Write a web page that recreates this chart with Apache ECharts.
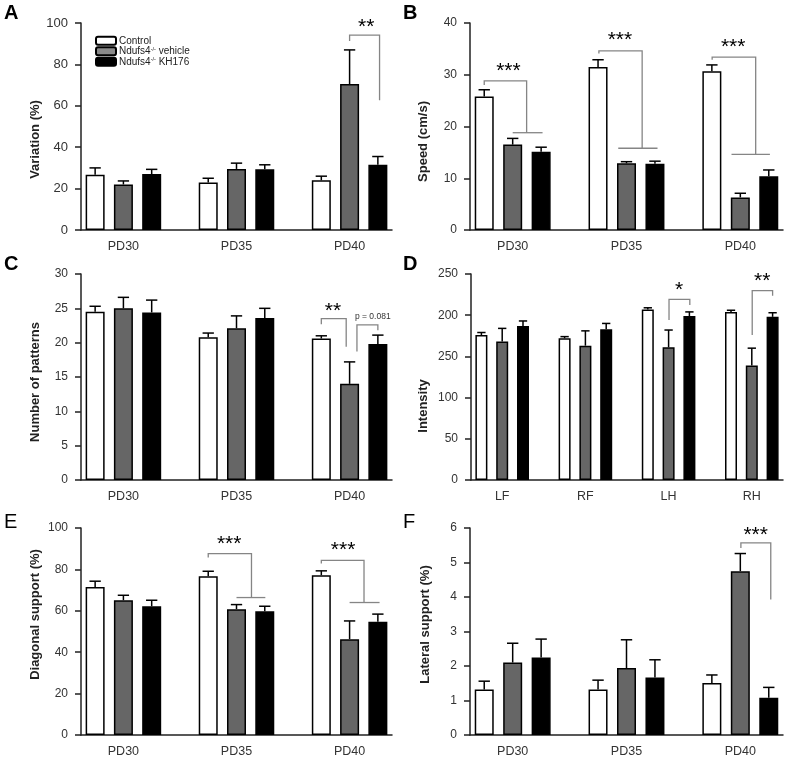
<!DOCTYPE html>
<html>
<head>
<meta charset="utf-8">
<script src="https://cdn.jsdelivr.net/npm/echarts@6/dist/echarts.min.js"></script>
<style>
  html, body { margin: 0; padding: 0; background: #fff; }
  #chart { width: 787px; height: 758px; }
</style>
</head>
<body>
<div id="chart"></div>
<script>
  // categories
  const ages = ['PD30', 'PD35', 'PD40'];
  const paws = ['LF', 'RF', 'LH', 'RH'];
  const groupNames = ['Control', 'Ndufs4-/- vehicle', 'Ndufs4-/- KH176'];
  const groupColors = ['#ffffff', '#666666', '#000000'];

  // A: variation (%) - rows are control, vehicle, KH176
  const variationMean = [[26.7, 23.0, 24.0], [22.0, 29.5, 70.5], [27.0, 29.3, 31.5]];
  const variationSem = [[3.3, 2.0, 2.0], [1.7, 2.8, 16.5], [2.3, 2.2, 4.0]];
  // B: speed (cm/s)
  const speedMean = [[25.8, 31.5, 30.7], [16.5, 12.9, 6.3], [15.1, 12.8, 10.4]];
  const speedSem = [[1.3, 1.4, 1.2], [1.2, 0.3, 0.8], [0.9, 0.5, 1.2]];
  // C: number of patterns
  const patternsMean = [[24.5, 20.8, 20.6], [25.0, 22.1, 14.0], [24.4, 23.6, 19.8]];
  const patternsSem = [[0.8, 0.6, 0.4], [1.6, 1.8, 3.2], [1.8, 1.4, 1.3]];
  // D: intensity per paw
  const intensityMean = [[176, 172, 207, 204], [168, 163, 161, 139], [187, 183, 199, 198]];
  const intensitySem = [[3, 2, 2, 2], [16, 18, 21, 21], [6, 7, 5, 5]];
  const intensityTicks = ['0', '50', '100', '250', '200', '250'];
  // E: diagonal support (%)
  const diagonalMean = [[71.5, 76.7, 77.2], [65.1, 60.8, 46.3], [62.2, 59.8, 54.7]];
  const diagonalSem = [[2.8, 2.4, 2.1], [2.4, 2.2, 8.8], [2.9, 2.4, 3.7]];
  // F: lateral support (%)
  const lateralMean = [[1.32, 1.32, 1.51], [2.10, 1.94, 4.75], [2.25, 1.67, 1.08]];
  const lateralSem = [[0.24, 0.27, 0.23], [0.56, 0.82, 0.51], [0.53, 0.51, 0.30]];

  // significance brackets, [slot, value] points ; stars [slot, value, text]
  const bracketsA = [[[9, 91.3], [9, 94.1], [10.06, 94.1], [10.06, 62.7]]];
  const starsA = [[9.59, 100, '**']];
  const bracketsB = [
    [[0, 28.0], [0, 28.8], [1.49, 28.8], [1.49, 18.8]], [[1.0, 18.8], [2.05, 18.8]],
    [[4.03, 34.1], [4.03, 34.6], [5.55, 34.6], [5.55, 15.8]], [[4.71, 15.8], [6.09, 15.8]],
    [[8.01, 32.9], [8.01, 33.4], [9.54, 33.4], [9.54, 14.6]], [[8.69, 14.6], [10.04, 14.6]]
  ];
  const starsB = [[0.85, 31.5, '***'], [4.77, 37.6, '***'], [8.75, 36.3, '***']];
  const bracketsC = [
    [[8.0, 22.7], [8.0, 23.5], [8.88, 23.5], [8.88, 19.4]],
    [[9.26, 18.7], [9.26, 22.6], [10.0, 22.6], [10.0, 21.8]]
  ];
  const starsC = [[8.41, 25.2, '**'], [9.82, 23.8, 'p = 0.081', 8.5]];
  const bracketsD = [
    [[9.02, 194.2], [9.02, 219.3], [10.02, 219.3], [10.02, 212.4]],
    [[13.02, 176], [13.02, 229.8], [14.0, 229.8], [14.0, 223.7]]
  ];
  const starsD = [[9.5, 235.4, '*'], [13.5, 246.8, '**']];
  const bracketsE = [
    [[4.0, 85.7], [4.0, 87.6], [5.53, 87.6], [5.53, 66.4]], [[5.0, 66.4], [6.02, 66.4]],
    [[8.0, 82.8], [8.0, 84.4], [9.51, 84.4], [9.51, 64.0]], [[9.0, 64.0], [10.06, 64.0]]
  ];
  const starsE = [[4.74, 94.4, '***'], [8.77, 91.6, '***']];
  const bracketsF = [[[9.02, 5.42], [9.02, 5.57], [10.07, 5.57], [10.07, 3.93]]];
  const starsF = [[9.54, 5.93, '***']];

  const FONT = "'Liberation Sans', Arial, sans-serif";

  // shift = how far the axis title sits below (+) or above (-) the grid middle
  const panels = [
    { letter: 'A', bold: true, cats: ages, mean: variationMean, sem: variationSem, max: 100, step: 20,
      title: 'Variation (%)', grid: { left: 81, top: 23, width: 311, height: 207 }, nameGap: 39, shift: 13, labelSize: 13,
      barWidth: 19, brackets: bracketsA, stars: starsA },
    { letter: 'B', bold: true, cats: ages, mean: speedMean, sem: speedSem, max: 40, step: 10,
      title: 'Speed (cm/s)', grid: { left: 470, top: 23, width: 313, height: 207 }, nameGap: 40, shift: 15, labelSize: 12,
      barWidth: 19, brackets: bracketsB, stars: starsB },
    { letter: 'C', bold: true, cats: ages, mean: patternsMean, sem: patternsSem, max: 30, step: 5,
      title: 'Number of patterns', grid: { left: 81, top: 274, width: 311, height: 206 }, nameGap: 39, shift: 5, labelSize: 12,
      barWidth: 19, brackets: bracketsC, stars: starsC },
    { letter: 'D', bold: true, cats: paws, mean: intensityMean, sem: intensitySem, max: 250, step: 50,
      title: 'Intensity', grid: { left: 471, top: 274, width: 312, height: 206 }, nameGap: 41, shift: 29, labelSize: 12,
      barWidth: 12, brackets: bracketsD, stars: starsD, ticks: intensityTicks },
    { letter: 'E', bold: false, cats: ages, mean: diagonalMean, sem: diagonalSem, max: 100, step: 20,
      title: 'Diagonal support (%)', grid: { left: 81, top: 528, width: 311, height: 207 }, nameGap: 39, shift: -17, labelSize: 12,
      barWidth: 19, brackets: bracketsE, stars: starsE },
    { letter: 'F', bold: false, cats: ages, mean: lateralMean, sem: lateralSem, max: 6, step: 1,
      title: 'Lateral support (%)', grid: { left: 470, top: 528, width: 313, height: 208 }, nameGap: 38, shift: -7, labelSize: 12,
      barWidth: 19, brackets: bracketsF, stars: starsF }
  ];

  // x position of a fractional slot
  function slotPoint(api, s, y) {
    const a = api.coord([0, y]);
    const b = api.coord([1, y]);
    return [a[0] + (b[0] - a[0]) * s, a[1]];
  }

  const grids = [], xAxes = [], yAxes = [], series = [], graphics = [];

  panels.forEach((p, i) => {
    const nSlots = p.cats.length * 4 - 1;
    const slotIds = [], slotLabels = [];
    for (let s = 0; s < nSlots; s++) {
      slotIds.push('s' + s);
      slotLabels.push(s % 4 === 1 ? p.cats[(s - 1) / 4] : '');
    }
    grids.push(p.grid);
    xAxes.push({
      type: 'category', gridIndex: i, data: slotIds,
      axisLine: { lineStyle: { color: '#222', width: 1.5 } },
      axisTick: { alignWithLabel: true, interval: 0, length: 6, lineStyle: { color: '#222', width: 1.5 } },
      axisLabel: { interval: 0, formatter: (v, idx) => slotLabels[idx], fontSize: 12.5, color: '#333',
        fontFamily: FONT, margin: 10 }
    });
    // rotated title: right padding moves it down, left padding moves it up
    const pad = p.shift > 0 ? [0, 2 * p.shift, 0, 0] : [0, 0, 0, -2 * p.shift];
    yAxes.push({
      type: 'value', gridIndex: i, min: 0, max: p.max, interval: p.step,
      name: p.title, nameLocation: 'middle', nameGap: p.nameGap,
      nameTextStyle: { fontWeight: 'bold', fontSize: 13, color: '#222', fontFamily: FONT, padding: pad },
      axisLine: { show: true, lineStyle: { color: '#222', width: 1.5 } },
      axisTick: { show: true, length: 6, lineStyle: { color: '#222', width: 1.5 } },
      splitLine: { show: false },
      axisLabel: { fontSize: p.labelSize, color: '#333', fontFamily: FONT, margin: 13,
        formatter: p.ticks ? (v => p.ticks[Math.round(v / p.step)]) : (v => String(v)) }
    });

    const errData = [];
    groupNames.forEach((name, k) => {
      const data = new Array(nSlots).fill('-');
      p.cats.forEach((c, g) => {
        data[g * 4 + k] = p.mean[k][g];
        errData.push([g * 4 + k, p.mean[k][g], p.mean[k][g] + p.sem[k][g]]);
      });
      series.push({
        type: 'bar', name: name, xAxisIndex: i, yAxisIndex: i, data: data,
        barWidth: p.barWidth, barGap: '-100%', silent: true,
        itemStyle: { color: groupColors[k], borderColor: '#000', borderWidth: 1.5 }
      });
    });

    series.push({
      type: 'custom', xAxisIndex: i, yAxisIndex: i, data: errData, silent: true, z: 3,
      renderItem: (params, api) => {
        const s = api.value(0);
        const base = api.coord([s, api.value(1)]);
        const top = api.coord([s, api.value(2)]);
        const cap = api.size([1, 0])[0] * 0.2;
        const st = { stroke: '#000', lineWidth: 1.5 };
        return { type: 'group', children: [
          { type: 'line', shape: { x1: base[0], y1: base[1], x2: top[0], y2: top[1] }, style: st },
          { type: 'line', shape: { x1: top[0] - cap, y1: top[1], x2: top[0] + cap, y2: top[1] }, style: st }
        ] };
      }
    });

    series.push({
      type: 'custom', xAxisIndex: i, yAxisIndex: i, data: p.brackets.map(() => [0, 0]), silent: true, z: 4,
      renderItem: (params, api) => {
        const pts = p.brackets[params.dataIndex].map(q => slotPoint(api, q[0], q[1]));
        return { type: 'polyline', shape: { points: pts },
          style: { stroke: '#858585', lineWidth: 1.3, fill: null } };
      }
    });

    series.push({
      type: 'custom', xAxisIndex: i, yAxisIndex: i, data: p.stars.map(() => [0, 0]), silent: true, z: 4,
      renderItem: (params, api) => {
        const st = p.stars[params.dataIndex];
        const size = st[3] || 21;
        const pt = slotPoint(api, st[0], st[1]);
        const isStar = !st[3];
        return { type: 'text', x: pt[0], y: pt[1] + (isStar ? size * 0.22 : 0),
          style: { text: st[2], fontSize: size, fontFamily: FONT, fill: isStar ? '#000' : '#333',
            align: 'center', verticalAlign: 'middle' } };
      }
    });

    graphics.push({
      type: 'text', left: p.grid.left < 200 ? 4 : 403, top: p.grid.top - (p.bold ? 20 : 16),
      style: { text: p.letter, fontSize: 20, fontWeight: p.bold ? 'bold' : 'normal', fontFamily: FONT, fill: '#000' }
    });
  });

  const chart = echarts.init(document.getElementById('chart'));
  chart.setOption({
    animation: false,
    grid: grids,
    xAxis: xAxes,
    yAxis: yAxes,
    graphic: graphics,
    legend: {
      left: 95, top: 35.5, orient: 'vertical', selectedMode: false, padding: 0,
      itemWidth: 20, itemHeight: 8, itemGap: 0,
      data: [
        { name: groupNames[0] },
        { name: groupNames[1], itemStyle: { color: '#8a8a8a' } },
        { name: groupNames[2] }
      ],
      formatter: n => n.replace('-/-', '{s|-/-}'),
      textStyle: {
        fontSize: 10, lineHeight: 10.5, color: '#222', fontFamily: FONT, padding: [0, 0, 0, -2],
        rich: { s: { fontSize: 5.5, lineHeight: 10.5, verticalAlign: 'top', color: '#222', fontFamily: FONT } }
      }
    },
    series: series
  });
</script>
</body>
</html>
